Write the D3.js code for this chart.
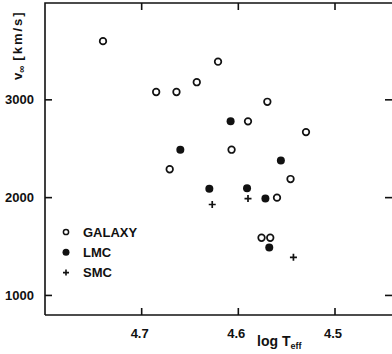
<!DOCTYPE html>
<html>
<head>
<meta charset="utf-8">
<script src="https://cdn.jsdelivr.net/npm/d3@7"></script>
<style>
  body { margin: 0; background: #fff; }
  svg { display: block; font-family: "Liberation Sans", Arial, sans-serif; }
  text { fill: #111; }
</style>
</head>
<body>
<svg id="chart" width="392" height="354"></svg>
<script>
// log Teff / v_inf [km/s]
const galaxyT = [4.740, 4.685, 4.664, 4.643, 4.621, 4.671, 4.590, 4.570, 4.607, 4.530, 4.546, 4.560, 4.576, 4.567];
const galaxyV = [3600, 3080, 3080, 3180, 3390, 2290, 2780, 2980, 2490, 2670, 2190, 2000, 1590, 1590];
const lmcT = [4.660, 4.608, 4.630, 4.591, 4.556, 4.572, 4.568];
const lmcV = [2490, 2780, 2090, 2095, 2380, 1990, 1490];
const smcT = [4.627, 4.590, 4.543];
const smcV = [1930, 1990, 1390];
const xTicks = [4.7, 4.6, 4.5];
const yTicks = [1000, 2000, 3000];
const legendLabels = ['GALAXY', 'LMC', 'SMC'];

const svg = d3.select('#chart');
const x = d3.scaleLinear().domain([4.8, 4.44]).range([45, 393]);
const y = d3.scaleLinear().domain([800, 3990]).range([315, 3]);
const tk = 7;

// frame
const g = svg.append('g').attr('stroke', '#111').attr('stroke-width', 1.6).attr('fill', 'none');
g.append('path').attr('d', `M${x.range()[0]},${y.range()[0]}V${y.range()[1]}H${x.range()[1]}`);
g.append('path').attr('d', `M${x.range()[0]},${y.range()[0]}H${x.range()[1]}`);

// ticks (inward on all four sides)
xTicks.forEach((t) => {
  g.append('line').attr('x1', x(t)).attr('x2', x(t)).attr('y1', y.range()[0]).attr('y2', y.range()[0] - tk);
  g.append('line').attr('x1', x(t)).attr('x2', x(t)).attr('y1', y.range()[1]).attr('y2', y.range()[1] + tk);
});
yTicks.forEach((t) => {
  g.append('line').attr('x1', x.range()[0]).attr('x2', x.range()[0] + tk).attr('y1', y(t)).attr('y2', y(t));
  g.append('line').attr('x1', x.range()[1] - 1).attr('x2', x.range()[1] - 1 - tk).attr('y1', y(t)).attr('y2', y(t));
});

// tick labels
svg.selectAll('text.xt').data(xTicks).join('text')
  .attr('class', 'xt')
  .attr('x', (d) => x(d) - 2).attr('y', 338)
  .attr('text-anchor', 'middle')
  .style('font-size', '13px').style('font-weight', 'bold')
  .text((d) => d.toFixed(1));
svg.selectAll('text.yt').data(yTicks).join('text')
  .attr('class', 'yt')
  .attr('x', 34).attr('y', (d) => y(d) + 4.5)
  .attr('text-anchor', 'end')
  .style('font-size', '13px').style('font-weight', 'bold')
  .text((d) => d);

// axis titles
const xl = svg.append('text').attr('x', 257).attr('y', 346)
  .style('font-size', '14px').style('font-weight', 'bold');
xl.append('tspan').text('log T');
xl.append('tspan').attr('dy', 3).style('font-size', '9px').text('eff');

const yl = svg.append('text').attr('transform', 'translate(22,80) rotate(-90)')
  .style('font-size', '13px').style('font-weight', 'bold');
yl.append('tspan').text('v');
yl.append('tspan').attr('dy', 3).style('font-size', '10px').text('∞');
yl.append('tspan').attr('dy', -3).attr('dx', 5).style('letter-spacing', '2px').text('[km/s]');

// markers
svg.append('g').selectAll('circle').data(galaxyT).join('circle')
  .attr('cx', (d) => x(d)).attr('cy', (d, i) => y(galaxyV[i])).attr('r', 3.3)
  .attr('fill', '#fff').attr('stroke', '#111').attr('stroke-width', 1.7);
svg.append('g').selectAll('circle').data(lmcT).join('circle')
  .attr('cx', (d) => x(d)).attr('cy', (d, i) => y(lmcV[i])).attr('r', 4)
  .attr('fill', '#111');
svg.append('g').selectAll('path').data(smcT).join('path')
  .attr('d', (d, i) => `M${x(d) - 3.5},${y(smcV[i])}h7M${x(d)},${y(smcV[i]) - 3.5}v7`)
  .attr('stroke', '#111').attr('stroke-width', 1.7);

// legend
const lg = svg.append('g').attr('transform', 'translate(66,232)');
legendLabels.forEach((lab, i) => {
  const row = lg.append('g').attr('transform', `translate(0,${i * 20.3})`);
  if (i === 0) row.append('circle').attr('r', 2.6).attr('fill', '#fff').attr('stroke', '#111').attr('stroke-width', 1.5);
  if (i === 1) row.append('circle').attr('r', 3.5).attr('fill', '#111');
  if (i === 2) row.append('path').attr('d', 'M-3,0h6M0,-3v6').attr('stroke', '#111').attr('stroke-width', 1.6);
  row.append('text').attr('x', 17).attr('y', 4.5)
    .style('font-size', '13px').style('font-weight', 'bold')
    .text(lab);
});
</script>
</body>
</html>
